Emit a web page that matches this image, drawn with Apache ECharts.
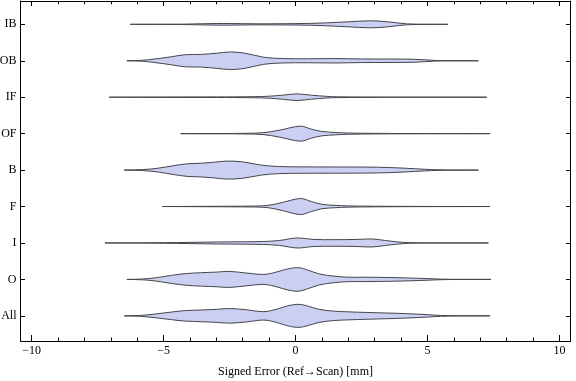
<!DOCTYPE html>
<html>
<head>
<meta charset="utf-8">
<script src="https://cdn.jsdelivr.net/npm/echarts@6/dist/echarts.min.js"></script>
<style>html,body{margin:0;padding:0;background:#fff}#c{width:576px;height:381px}</style>
</head>
<body>
<div id="c"></div>
<script>
// Categories, top to bottom
const categories = ['IB', 'OB', 'IF', 'OF', 'B', 'F', 'I', 'O', 'All'];

// Violin profiles: [signed error (mm), density (half-width, arbitrary units)]
const profIB = [[-6.27,0],[-4.5,0.1],[-4,0.3],[-3,0.8],[-2.5,0.8],[-1.5,0.5],[-0.5,0.6],[0.5,0.9],[1.2,1.5],[2,2.5],[2.84,3.5],[3.5,2.5],[4.2,0.5],[5,0.1],[5.77,0]];
const profOB = [[-6.39,0],[-5.8,0.5],[-5.36,1.7],[-4.7,4],[-4.2,6],[-3.6,6.3],[-3,7.5],[-2.46,8.8],[-1.9,7.5],[-1.2,3.5],[-0.5,2.2],[0.5,2],[1.5,2.2],[2.5,1.8],[3.5,1.7],[4.5,1.5],[5.3,0.3],[6,0.05],[6.93,0]];
const profIF = [[-7.06,0],[-6.5,0.05],[-5,0.2],[-3,0.3],[-1.64,0.5],[-1,1],[-0.5,2],[0.06,3.3],[0.6,2],[1.2,0.8],[1.6,0.4],[2.46,0.2],[3.5,0.05],[7.25,0]];
const profOF = [[-4.35,0],[-3.5,0.1],[-2,0.3],[-1.2,1],[-0.6,3.5],[0.19,7.5],[0.6,4.5],[1,2.2],[1.5,1.2],[2,0.6],[3,0.3],[3.6,0.2],[5,0.05],[7.37,0]];
const profB = [[-6.49,0],[-5.8,0.5],[-5.23,1.8],[-4.6,4.5],[-4.1,6.3],[-3.6,6.8],[-3.1,7.8],[-2.6,9],[-2,8.2],[-1.3,5],[-0.6,3.5],[0.3,3.2],[1.5,3.1],[2.7,3],[3.5,2.6],[4.2,1.8],[4.9,0.8],[5.4,0.3],[6,0.05],[6.93,0]];
const profF = [[-5.04,0],[-4,0.1],[-2.5,0.3],[-1.5,0.5],[-1,1.3],[-0.5,4],[0.19,8],[0.6,5],[1,2.2],[1.5,1.2],[2,0.6],[3,0.3],[4,0.15],[5.5,0.05],[7.37,0]];
const profI = [[-7.22,0],[-6,0.1],[-5,0.3],[-4,0.6],[-3,1],[-2,1.2],[-1.2,1.5],[-0.6,2.5],[0.06,5],[0.7,3.5],[1.5,3.3],[2.3,3.5],[2.9,4],[3.4,2.5],[3.9,1],[4.3,0.3],[5,0.1],[6,0.03],[7.31,0]];
const profO = [[-6.39,0],[-5.8,0.4],[-5.36,1.4],[-4.7,4],[-4.2,5.7],[-3.6,6.7],[-3,7.3],[-2.5,8],[-1.9,6.5],[-1.2,5],[-0.7,7.5],[-0.3,10.5],[0.13,11.7],[0.5,9],[0.9,5.5],[1.45,3.3],[2,2.2],[2.7,2.2],[3.5,1.9],[4.2,1.5],[5,0.8],[5.5,0.3],[6.2,0.05],[7.4,0]];
const profAll = [[-6.49,0],[-5.9,0.4],[-5.36,1.7],[-4.7,3.8],[-4.2,5.2],[-3.6,5.8],[-3,6.5],[-2.5,7.3],[-1.9,6.2],[-1.2,4.2],[-0.7,6.7],[-0.3,10],[0.13,11.5],[0.5,9.5],[0.9,6.5],[1.45,4.7],[2,4],[2.7,3.4],[3.5,2.8],[4.2,2.2],[5,1.2],[5.5,0.4],[6.2,0.1],[7.37,0]];

const profiles = [profIB, profOB, profIF, profOF, profB, profF, profI, profO, profAll];

// Tick values
const xMajorTicks = [-10, -5, 0, 5, 10];
const xMinorTicks = [-10,-9,-8,-7,-6,-5,-4,-3,-2,-1,0,1,2,3,4,5,6,7,8,9,10];
const yTicks = [0,1,2,3,4,5,6,7,8];

const xTitle = 'Signed Error (Ref\u2192Scan) [mm]';

const X_MIN = -10.42, X_MAX = 10.42;
const Y_MIN = -0.64, Y_MAX = 8.69;
const DENSITY_SCALE = 1 / 36.4; // density unit -> category units

const FONT = 'Liberation Serif';
const fmtX = v => (v < 0 ? '\u2212' + Math.abs(v) : String(v));

function xAx(pos, ticks, len, showLine, labels, extra) {
  return Object.assign({
    type: 'value', position: pos, min: X_MIN, max: X_MAX,
    axisLine: { show: showLine, onZero: false, lineStyle: { color: '#000', width: 1 } },
    axisTick: { show: true, inside: true, length: len, customValues: ticks, lineStyle: { color: '#000', width: 1 } },
    axisLabel: labels ? { show: true, customValues: xMajorTicks, formatter: fmtX, color: '#000', fontFamily: FONT, fontSize: 12, margin: 4 } : { show: false },
    splitLine: { show: false }
  }, extra || {});
}
function yAx(pos, labels) {
  return {
    type: 'value', position: pos, min: Y_MIN, max: Y_MAX, inverse: true,
    axisLine: { show: true, onZero: false, lineStyle: { color: '#000', width: 1 } },
    axisTick: { show: true, inside: true, length: 4.5, customValues: yTicks, lineStyle: { color: '#000', width: 1 } },
    axisLabel: labels ? { show: true, customValues: yTicks, formatter: v => categories[v], color: '#000', fontFamily: FONT, fontSize: 12, margin: 4 } : { show: false },
    splitLine: { show: false }
  };
}

const chart = echarts.init(document.getElementById('c'), null, { renderer: 'canvas' });
chart.setOption({
  animation: false,
  backgroundColor: '#fff',
  grid: { left: 20.5, right: 5.5, top: 1, bottom: 40, containLabel: false, outerBoundsMode: 'none' },
  xAxis: [
    xAx('bottom', xMajorTicks, 6, true, true, {
      name: xTitle, nameLocation: 'middle', nameGap: 25,
      nameTextStyle: { color: '#000', fontFamily: FONT, fontSize: 12 }
    }),
    xAx('bottom', xMinorTicks, 3.5, false, false),
    xAx('top', xMajorTicks, 5, true, false),
    xAx('top', xMinorTicks, 3.3, false, false)
  ],
  yAxis: [yAx('left', true), yAx('right', false)],
  series: [{
    type: 'custom',
    xAxisIndex: 0, yAxisIndex: 0,
    data: categories.map((c, i) => [i]),
    renderItem: function (params, api) {
      const idx = api.value(0);
      const prof = profiles[idx];
      const upper = prof.map(p => api.coord([p[0], idx - p[1] * DENSITY_SCALE]));
      const lower = prof.slice().reverse().map(p => api.coord([p[0], idx + p[1] * DENSITY_SCALE]));
      return {
        type: 'polygon',
        shape: { points: upper.concat(lower), smooth: 0.35 },
        style: { fill: '#cbd0f3', stroke: '#45454c', lineWidth: 1 }
      };
    }
  }]
});
</script>
</body>
</html>
